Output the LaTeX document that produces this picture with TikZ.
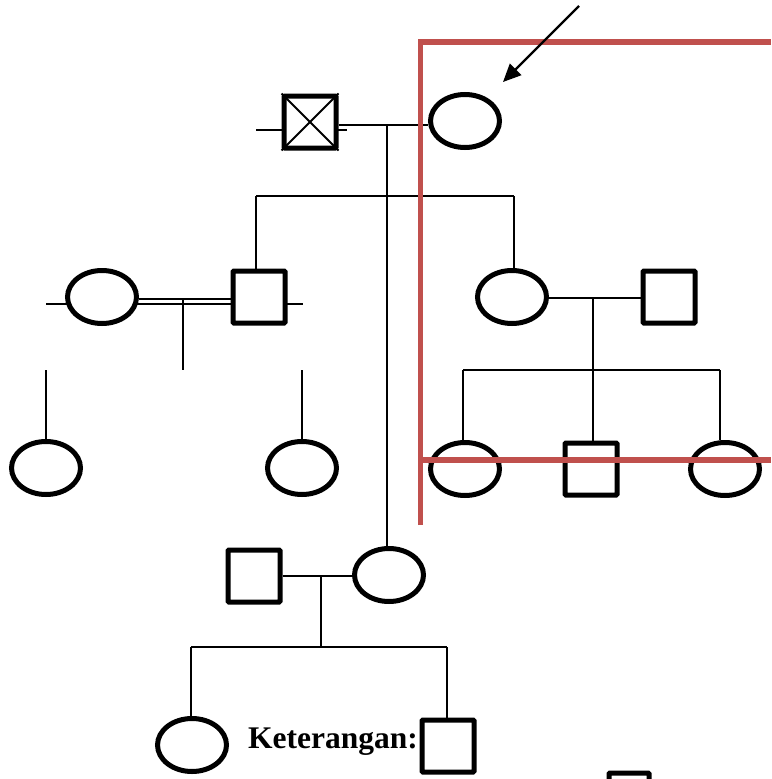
\documentclass[tikz,border=0pt]{standalone}
\usepackage{fontspec}
\setmainfont{Liberation Serif}
\usetikzlibrary{shapes.geometric,arrows.meta,backgrounds}
\definecolor{redc}{HTML}{C0504D}
\begin{document}
\begin{tikzpicture}[x=1pt,y=-1pt,
 fem/.style={draw,fill=white,ellipse,line width=5pt,minimum width=69pt,minimum height=53pt,inner sep=0pt},
 mal/.style={draw,fill=white,rectangle,line width=5pt,minimum size=52pt,inner sep=0pt,rounded corners=1pt},
 ln/.style={line width=1.8pt},
 redln/.style={draw=redc,line width=5.5pt}]
\useasboundingbox (0,0) rectangle (771,779);
% nodes
\node[mal] (gf) at (310,122) {};
\node[fem] (gm) at (465,121) {};
\node[mal] (s1) at (259,297) {};
\node[fem] (w1) at (102,297) {};
\node[fem] (d1) at (512,297) {};
\node[mal] (h1) at (669,297) {};
\node[fem] (c1) at (46,468) {};
\node[fem] (c2) at (302,468) {};
\node[fem] (g1) at (465,469) {};
\node[mal] (g2) at (591,469) {};
\node[fem] (g3) at (725,469) {};
\node[mal] (h2) at (254,576) {};
\node[fem] (d2) at (389,575) {};
\node[fem] (e1) at (192,745) {};
\node[mal] (e2) at (448,746) {};
\node[mal,minimum size=40pt] (k1) at (629,793) {};
\node[font=\bfseries\fontsize{31.5}{31.5}\selectfont,anchor=base west,inner sep=0pt] (ket) at (248,748) {Keterangan:};
% coordinates
\coordinate (gfl) at (256,130);
\coordinate (gfr) at (347,130);
\coordinate (m1) at (387,125);
\coordinate (sibl) at (256,196);
\coordinate (sibr) at (514,196);
\coordinate (w1l) at (46,304);
\coordinate (s1r) at (303,304);
\coordinate (dj) at (183,299);
\coordinate (dd) at (183,370);
\coordinate (c1t) at (46,370);
\coordinate (c2t) at (302,370);
\coordinate (m2) at (593,298);
\coordinate (sib2l) at (463,370);
\coordinate (sib2r) at (720,370);
\coordinate (m3) at (321,576);
\coordinate (sib3l) at (191,647);
\coordinate (sib3r) at (447,647);
\coordinate (arrs) at (579,6);
\coordinate (arre) at (503,82);
\begin{scope}[on background layer]
\draw[ln] (gfl) -- (gfr);
\draw[ln] (gf.east |- m1) -- (gm.west |- m1);
\draw[ln] (m1) -- (m1 |- d2.north);
\draw[ln] (sibl) -- (sibr);
\draw[ln] (sibl) -- (sibl |- s1.north);
\draw[ln] (sibr) -- (sibr |- d1.north);
\draw[ln] (w1l) -- (s1r);
\draw[ln] (w1.east |- dj) -- (s1.west |- dj);
\draw[ln] (dj) -- (dd);
\draw[ln] (c1t) -- (c1t |- c1.north);
\draw[ln] (c2t) -- (c2t |- c2.north);
\draw[ln] (d1.east |- m2) -- (h1.west |- m2);
\draw[ln] (m2) -- (m2 |- g2.north);
\draw[ln] (sib2l) -- (sib2r);
\draw[ln] (sib2l) -- (sib2l |- g1.north);
\draw[ln] (sib2r) -- (sib2r |- g3.north);
\draw[ln] (h2.east |- m3) -- (d2.west |- m3);
\draw[ln] (m3) -- (m3 |- sib3l);
\draw[ln] (sib3l) -- (sib3r);
\draw[ln] (sib3l) -- (sib3l |- e1.north);
\draw[ln] (sib3r) -- (sib3r |- e2.north);
\end{scope}
\draw[ln] (gf.north west) -- (gf.south east);
\draw[ln] (gf.north east) -- (gf.south west);
% red lines
\draw[redln] (420.5,525) -- (420.5,42) -- (771,42);
\draw[redln] (418,460) -- (771,460);
% arrow
\draw[line width=2.3pt,-{Triangle[length=18pt,width=16pt]}] (arrs) -- (arre);
\end{tikzpicture}
\end{document}
